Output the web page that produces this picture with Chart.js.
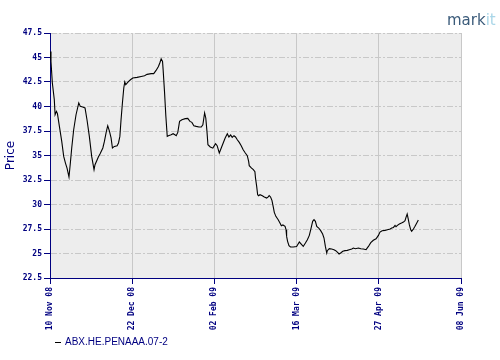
<!DOCTYPE html>
<html>
<head>
<meta charset="utf-8">
<script src="https://cdn.jsdelivr.net/npm/chart.js@4/dist/chart.umd.min.js"></script>
<style>
  html, body { margin: 0; padding: 0; background: #fff; }
  #wrap { width: 500px; height: 360px; }
</style>
</head>
<body>
<div id="wrap"><canvas id="chart" width="500" height="360"></canvas></div>
<script>
// days since 10 Nov 08 and price
const days = [
  0, 0.5, 1.2, 2.2, 2.6, 3.3, 3.8, 4.8, 6.0, 7.0, 7.9, 8.7, 9.7, 10.4, 11.1, 12.1,
  13.3, 14.7, 15.5, 16.7, 17.9, 18.9, 20.1, 21.3, 22.2, 22.5, 23.0, 24.1, 24.7, 25.6,
  27.0, 27.8, 28.8, 29.5, 30.4, 31.2, 31.9, 32.9, 34.3, 35.0, 35.7, 36.3, 37.0, 37.7,
  38.2, 38.7, 39.7, 41.1, 42.3, 44.5, 46.6, 48.3, 49.6, 51.7, 53.0, 54.2, 55.4, 56.1,
  56.8, 57.5, 57.8, 58.5, 59.2, 59.9, 60.5, 61.9, 62.9, 63.8, 64.5, 65.3, 66.2, 67.4,
  69.1, 70.4, 71.5, 72.5, 73.5, 74.7, 76.1, 77.3, 78.1, 79.0, 79.6, 80.2, 80.7, 81.9,
  83.2, 84.6, 85.4, 86.5, 87.5, 88.5, 89.5, 90.6, 91.4, 92.3, 93.1, 94.0, 94.8, 95.7,
  96.7, 97.7, 98.7, 99.8, 100.8, 101.5, 101.8, 103.0, 103.9, 104.7, 105.0, 105.6, 106.1,
  106.6, 107.3, 108.5, 109.5, 110.7, 111.5, 112.0, 112.7, 113.4, 114.1, 114.6, 115.4,
  116.6, 117.5, 118.2, 119.0, 120.1, 120.6, 120.9, 121.4, 122.1, 122.9, 124.3, 126.0,
  127.4, 128.6, 129.4, 130.5, 131.5, 132.5, 133.4, 134.2, 134.9, 135.6, 136.3, 137.3,
  138.3, 139.3, 140.0, 140.7, 141.4, 141.7, 142.7, 143.9, 145.1, 146.0, 146.8, 147.7,
  148.5, 149.6, 150.7, 151.9, 152.9, 154.2, 155.0, 156.0, 157.6, 158.8, 160.1, 161.5,
  162.7, 163.9, 165.2, 166.6, 167.8, 168.6, 169.7, 171.2, 172.4, 173.8, 174.6, 175.5,
  176.3, 176.8, 177.5, 178.5, 179.6, 180.6, 181.4, 181.9, 182.5, 183.0, 183.6, 184.3,
  184.8, 185.7, 186.5, 187.4, 188.2
];
const prices = [
  45.6, 44.6, 42.4, 40.69, 39.16, 39.5, 39.27, 37.97, 36.44, 34.91, 34.23, 33.72, 32.81, 34.23, 35.77, 37.63,
  39.16, 40.36, 40.01, 39.95, 39.85, 38.65, 36.95, 34.91, 33.89, 33.55, 34.06, 34.57, 34.85, 35.18,
  35.77, 36.44, 37.46, 38.04, 37.46, 36.79, 35.77, 35.93, 36.0, 36.28, 36.95, 38.65, 40.36, 41.89,
  42.5, 42.22, 42.46, 42.73, 42.91, 42.97, 43.07, 43.14, 43.28, 43.35, 43.35, 43.68, 44.09, 44.44,
  44.85, 44.6, 43.76, 41.54, 39.0, 36.95, 37.02, 37.12, 37.22, 37.12, 37.02, 37.36, 38.48, 38.65,
  38.76, 38.79, 38.48, 38.38, 38.04, 37.97, 37.91, 37.91, 38.14, 39.34, 38.83, 37.46, 36.1, 35.87,
  35.75, 36.2, 36.0, 35.26, 35.77, 36.28, 36.79, 37.22, 36.89, 37.09, 36.85, 37.02, 36.89, 36.61,
  36.34, 36.0, 35.59, 35.26, 34.98, 34.4, 33.96, 33.72, 33.55, 33.35, 32.7, 31.85, 31.0,
  30.9, 31.0, 30.9, 30.77, 30.66, 30.77, 30.9, 30.77, 30.42, 29.74, 29.2, 28.79,
  28.45, 28.11, 27.84, 27.91, 27.77, 27.43, 26.75, 26.24, 25.8, 25.66, 25.66, 25.72,
  26.17, 25.9, 25.72, 26.07, 26.41, 26.85, 27.6, 28.28, 28.45, 28.28, 27.77, 27.6,
  27.33, 26.99, 26.58, 25.72, 25.05, 25.29, 25.49, 25.46, 25.39, 25.29, 25.15, 24.95,
  25.05, 25.22, 25.29, 25.32, 25.39, 25.46, 25.56, 25.49, 25.56, 25.49, 25.46, 25.39,
  25.72, 26.1, 26.35, 26.5, 26.85, 27.19, 27.33, 27.36, 27.43, 27.5, 27.6, 27.66,
  27.87, 27.73, 27.87, 28.01, 28.11, 28.21, 28.35, 28.68, 29.03, 28.55, 27.94, 27.43,
  27.26, 27.5, 27.77, 28.11, 28.42
];
const tickLabels = ["10 Nov 08", "22 Dec 08", "02 Feb 09", "16 Mar 09", "27 Apr 09", "08 Jun 09"];
const seriesName = "ABX.HE.PENAAA.07-2";

const navy = "#000080";
const gridGray = "#c8c8c8";
const tickFont = { family: "DejaVu Sans Mono", size: 8, weight: "bold" };

const points = days.map((d, i) => ({ x: d, y: prices[i] }));

// grey plot background, legend line and the markit logo
const decor = {
  id: "decor",
  beforeDraw(chart) {
    const { ctx, chartArea: a } = chart;
    ctx.save();
    ctx.fillStyle = "#ededed";
    ctx.fillRect(a.left, a.top, a.right - a.left, a.bottom - a.top);
    ctx.restore();
  },
  afterDraw(chart) {
    const ctx = chart.ctx;
    ctx.save();
    // legend
    ctx.strokeStyle = "#000";
    ctx.lineWidth = 1;
    ctx.beginPath();
    ctx.moveTo(55, 342.5);
    ctx.lineTo(61, 342.5);
    ctx.stroke();
    ctx.fillStyle = navy;
    ctx.font = "10px 'Liberation Sans'";
    ctx.textBaseline = "middle";
    ctx.fillText(chart.data.datasets[0].label, 65, 342.5);
    // logo
    ctx.font = "15px 'DejaVu Sans'";
    ctx.textBaseline = "alphabetic";
    ctx.fillStyle = "#3b5b7a";
    ctx.fillText("mark", 447, 25);
    const w = ctx.measureText("mark").width;
    ctx.fillStyle = "#a9d6e8";
    ctx.fillText("it", 447 + w, 25);
    ctx.restore();
  }
};

new Chart(document.getElementById("chart"), {
  type: "line",
  data: {
    datasets: [{
      label: seriesName,
      data: points,
      borderColor: "#000",
      borderWidth: 1.1,
      pointRadius: 0,
      tension: 0,
      fill: false
    }]
  },
  options: {
    responsive: false,
    animation: false,
    layout: { padding: { top: 33, right: 39, left: 0, bottom: 0 } },
    plugins: {
      legend: { display: false },
      tooltip: { enabled: false }
    },
    scales: {
      x: {
        type: "linear",
        min: 0,
        max: 210,
        afterFit: (s) => { s.height = 82; },
        ticks: {
          stepSize: 42,
          autoSkip: false,
          minRotation: 90,
          maxRotation: 90,
          padding: 3,
          color: navy,
          font: tickFont,
          callback: (v) => tickLabels[Math.round(v / 42)]
        },
        grid: { color: gridGray, tickColor: navy, tickLength: 6 },
        border: { color: navy, width: 1 }
      },
      y: {
        min: 22.5,
        max: 47.5,
        afterFit: (s) => { s.width = 50; },
        ticks: {
          stepSize: 2.5,
          padding: 2,
          color: navy,
          font: tickFont
        },
        grid: { color: gridGray, tickColor: navy, tickLength: 6, tickBorderDash: [] },
        border: { color: navy, width: 1, dash: [6, 2, 2, 2] },
        title: {
          display: true,
          text: "Price",
          color: navy,
          font: { family: "DejaVu Sans", size: 12 },
          padding: { top: 4, bottom: 0 }
        }
      }
    }
  },
  plugins: [decor]
});
</script>
</body>
</html>
